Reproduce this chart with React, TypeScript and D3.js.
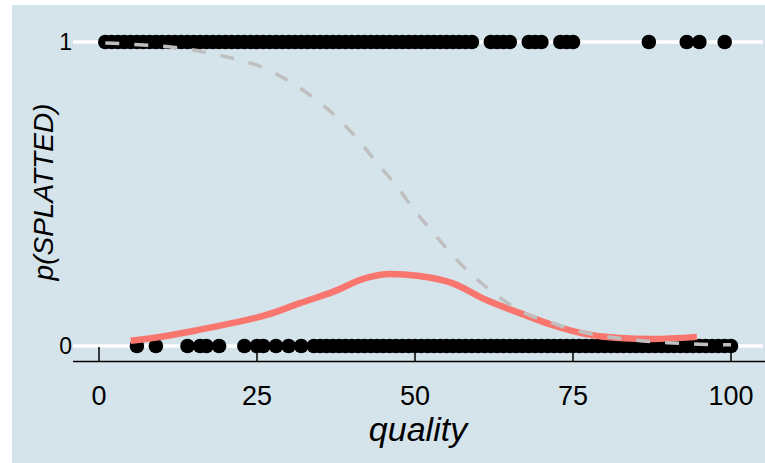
import React from "react";
import * as d3 from "d3";

// Observed outcomes: quality scores of splatted (1) and not splatted (0) cases
const splattedQuality = [
  1, 2, 3, 4, 5, 6, 7, 8, 9, 10, 11, 12, 13, 14, 15, 16, 17, 18, 19, 20,
  21, 22, 23, 24, 25, 26, 27, 28, 29, 30, 31, 32, 33, 34, 35, 36, 37, 38, 39, 40,
  41, 42, 43, 44, 45, 46, 47, 48, 49, 50, 51, 52, 53, 54, 55, 56, 57, 58, 59,
  62, 63, 64, 65, 68, 69, 70, 73, 74, 75, 87, 93, 95, 99,
];
const notSplattedQuality = [
  6, 9, 14, 16, 17, 19, 23, 25, 26, 28, 30, 32,
  34, 35, 36, 37, 38, 39, 40, 41, 42, 43, 44, 45, 46, 47, 48, 49, 50, 51, 52, 53,
  54, 55, 56, 57, 58, 59, 60, 61, 62, 63, 64, 65, 66, 67, 68, 69, 70, 71, 72, 73,
  74, 75, 76, 77, 78, 79, 80, 81, 82, 83, 84, 85, 86, 87, 88, 89, 90, 91, 92, 93,
  94, 95, 96, 97, 98, 99, 100,
];

// Fitted logistic curve (dashed grey): quality vs probability
const logisticQuality = [1, 2.2, 7, 11.7, 16.4, 21.2, 25.7, 29.9, 33.8, 37.6, 40.9, 44, 47.1, 49.9, 52.8, 55.9, 59.4, 63.3, 67, 71.7, 76, 80, 85, 90, 95, 100];
const logisticProb = [0.997, 0.996, 0.99, 0.983, 0.968, 0.946, 0.918, 0.873, 0.819, 0.753, 0.681, 0.602, 0.526, 0.447, 0.375, 0.299, 0.227, 0.161, 0.112, 0.076, 0.048, 0.032, 0.019, 0.011, 0.006, 0.004];

// Smoothed curve (red)
const smoothQuality = [5, 10.6, 15.8, 21.2, 26.5, 31.8, 37, 42.3, 46, 50.7, 55.9, 61.3, 66.5, 71.7, 77.1, 82.3, 87.5, 94.6];
const smoothProb = [0.017, 0.033, 0.053, 0.076, 0.102, 0.141, 0.178, 0.224, 0.237, 0.23, 0.207, 0.151, 0.109, 0.069, 0.039, 0.026, 0.023, 0.03];

const xTicks = [0, 25, 50, 75, 100];
const yTicks = [0, 1];

const W = 765;
const H = 463;
const BG = "#d5e4eb";
const FONT = "'Liberation Sans', Arial, sans-serif";

export default function App() {
  const x = d3.scaleLinear().domain([0, 100]).range([99, 731]);
  const y = d3.scaleLinear().domain([0, 1]).range([346, 42]);
  const axisY = 361.5;

  const line = d3
    .line<[number, number]>()
    .x((d) => x(d[0]))
    .y((d) => y(d[1]))
    .curve(d3.curveMonotoneX);

  const logisticPts = logisticQuality.map((q, i) => [q, logisticProb[i]] as [number, number]);
  const smoothPts = smoothQuality.map((q, i) => [q, smoothProb[i]] as [number, number]);

  return (
    <svg
      width={W}
      height={H}
      style={{ position: "absolute", left: 0, top: 0, background: "#fff" }}
    >
      <rect x={12} y={5} width={W - 12} height={H - 5} fill={BG} />

      {/* horizontal gridlines */}
      {yTicks.map((t) => (
        <line key={t} x1={73} x2={763} y1={y(t)} y2={y(t)} stroke="#fff" strokeWidth={3.5} />
      ))}
      {yTicks.map((t) => (
        <text
          key={t}
          x={72}
          y={y(t)}
          dy="0.36em"
          textAnchor="end"
          fontFamily={FONT}
          fontSize={23}
          fill="#000"
        >
          {t}
        </text>
      ))}

      {/* x axis */}
      <line x1={73} x2={W} y1={axisY} y2={axisY} stroke="#000" strokeWidth={1.5} />
      {xTicks.map((t) => (
        <g key={t}>
          <line x1={x(t)} x2={x(t)} y1={axisY} y2={347} stroke="#000" strokeWidth={1.5} />
          <text
            x={x(t)}
            y={405}
            textAnchor="middle"
            fontFamily={FONT}
            fontSize={27}
            fill="#000"
          >
            {t}
          </text>
        </g>
      ))}

      {/* observations */}
      {splattedQuality.map((q, i) => (
        <circle key={"s" + i} cx={x(q)} cy={y(1)} r={7.3} fill="#000" />
      ))}
      {notSplattedQuality.map((q, i) => (
        <circle key={"n" + i} cx={x(q)} cy={y(0)} r={7.3} fill="#000" />
      ))}

      {/* smoothed fit */}
      <path d={line(smoothPts) || ""} fill="none" stroke="#f8766d" strokeWidth={6.5} />

      {/* logistic fit */}
      <path
        d={line(logisticPts) || ""}
        fill="none"
        stroke="#bfbfbf"
        strokeWidth={3.5}
        strokeDasharray="14,15"
      />

      {/* axis titles */}
      <text
        x={418}
        y={441}
        textAnchor="middle"
        fontFamily={FONT}
        fontStyle="italic"
        fontSize={34}
        fill="#000"
      >
        quality
      </text>
      <text
        transform={`translate(53,192) rotate(-90)`}
        textAnchor="middle"
        fontFamily={FONT}
        fontStyle="italic"
        fontSize={28}
        fill="#000"
      >
        p(SPLATTED)
      </text>
    </svg>
  );
}
